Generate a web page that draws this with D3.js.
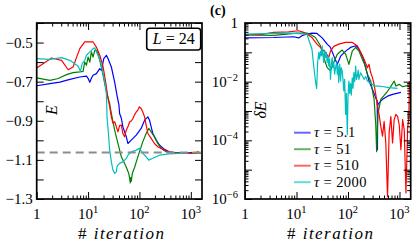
<!DOCTYPE html>
<html>
<head>
<meta charset="utf-8">
<script src="https://cdn.jsdelivr.net/npm/d3@7"></script>
</head>
<body style="margin:0;background:#fff">
<svg id="chart" width="415" height="243" style="display:block"></svg>
<script>
// ---- data ----
// [iteration, E]
var energyBlue = [
  [1,-0.721],[1.81,-0.710],[2.83,-0.702],[4.42,-0.688],[6.9,-0.676],[9.3,-0.672],[10,-0.683],
  [10.8,-0.703],[11.6,-0.683],[12.5,-0.667],[14.5,-0.659],[16.9,-0.633],[18.2,-0.642],[20.2,-0.582],
  [22.7,-0.565],[24.4,-0.582],[28.4,-0.625],[32.9,-0.702],[36.5,-0.769],[39.9,-0.820],[41.1,-0.863],
  [44.4,-0.887],[47.6,-0.931],[55.5,-0.982],[59.6,-1.016],[69.3,-0.999],[86.7,-0.973],[108,-0.939],
  [126,-0.897],[146,-0.880],[157,-0.897],[169,-0.931],[182,-0.965],[212,-0.999],[245,-1.024],
  [306,-1.046],[383,-1.059],[516,-1.064],[935,-1.064],[1065,-1.062]
];
var energyGreen = [
  [1,-0.681],[1.81,-0.693],[2.62,-0.684],[3.81,-0.664],[5.1,-0.654],[6.9,-0.650],[8.0,-0.647],
  [8.6,-0.600],[9.3,-0.616],[10,-0.574],[10.8,-0.600],[11.6,-0.548],[12.5,-0.574],[13.5,-0.540],
  [14.5,-0.540],[15.6,-0.555],[16.9,-0.591],[19,-0.650],[21.1,-0.710],[23.4,-0.761],[26.3,-0.812],
  [28.4,-0.863],[32.9,-0.948],[38.1,-1.016],[44.4,-1.084],[51.4,-1.118],[56,-1.140],[62,-1.170],
  [64.3,-1.193],[66.3,-1.218],[68,-1.190],[69.3,-1.210],[72,-1.175],[74.5,-1.161],[80,-1.140],
  [86.7,-1.110],[100,-1.059],[116,-1.008],[135,-0.965],[152,-0.939],[169,-0.957],[196,-0.982],
  [227,-1.016],[264,-1.041],[330,-1.059],[516,-1.066],[935,-1.066],[1600,-1.066]
];
var energyRed = [
  [1,-0.630],[1.95,-0.579],[3.05,-0.591],[4.1,-0.639],[5.1,-0.625],[6.9,-0.531],[8.6,-0.497],
  [12.5,-0.497],[14.5,-0.523],[16.9,-0.565],[19.5,-0.621],[22,-0.702],[24.4,-0.786],[26.3,-0.826],
  [28.4,-0.880],[30.5,-0.912],[33,-0.905],[35.5,-0.931],[38.1,-0.957],[41,-0.925],[44.4,-0.922],
  [47.6,-0.965],[51.4,-0.982],[55,-0.950],[59.6,-0.931],[64.3,-0.906],[70,-0.900],[74.5,-0.888],
  [80,-0.870],[86.7,-0.855],[93,-0.845],[100,-0.829],[108,-0.837],[116,-0.855],[126,-0.880],
  [135,-0.922],[146,-0.965],[169,-0.990],[196,-1.016],[227,-1.033],[284,-1.046],[355,-1.057],
  [450,-1.063],[600,-1.066],[900,-1.066],[1200,-1.066],[1300,-1.062],[1400,-1.055]
];
var energyCyan = [
  [1,-0.582],[1.81,-0.586],[3.05,-0.577],[4.42,-0.591],[5.5,-0.608],[6.4,-0.621],[7.1,-0.647],
  [7.7,-0.606],[8.6,-0.591],[9.3,-0.565],[10.8,-0.548],[12.5,-0.531],[13.5,-0.527],[14.1,-0.540],
  [15.6,-0.565],[17.4,-0.600],[19,-0.642],[21.1,-0.702],[22.7,-0.761],[23.4,-0.880],[24.9,-0.965],
  [26.3,-1.050],[28.4,-1.110],[30.5,-1.152],[32.9,-1.169],[35.5,-1.161],[36.5,-1.135],[38.1,-1.127],
  [41.1,-1.118],[47.6,-1.110],[55.5,-1.092],[59.6,-1.076],[69.3,-1.059],[86.7,-1.050],[100,-1.041],
  [116,-1.067],[135,-1.084],[152,-1.101],[182,-1.092],[245,-1.076],[383,-1.069],[693,-1.066],[900,-1.066]
];
var energyExact = -1.062;

// [iteration, deltaE]
var deltaBlue = [
  [1,0.31],[3.6,0.32],[8.8,0.34],[11,0.31],[12.8,0.37],[16,0.42],[20,0.454],[25,0.44],[31.5,0.31],
  [39.4,0.19],[45.7,0.147],[53,0.0757],[62,0.039],[72,0.074],[90,0.11],[112,0.147],[141,0.167],
  [163,0.128],[190,0.0757],[221,0.030],[256,0.0105],[298,0.0055],[346,0.0028],[370,0.0022],
  [373,4.8e-5],[378,0.0016],[402,0.0019],[468,0.0025],[586,0.0032],[733,0.0037],[1065,0.0043]
];
var deltaGreen = [
  [1,0.39],[3.6,0.38],[6.5,0.42],[10.2,0.454],[16,0.454],[19.5,0.39],[23.3,0.32],[29.2,0.167],
  [33.8,0.067],[39.4,0.030],[45.7,0.0232],[53,0.046],[62,0.0865],[77,0.12],[90,0.0865],[104,0.039],
  [121,0.11],[141,0.147],[163,0.11],[190,0.058],[210,0.039],[238,0.018],[276,0.0105],[321,0.0025],
  [346,3.4e-4],[360,4.1e-5],[380,7.6e-4],[433,0.0025],[503,0.0034],[586,0.0047],[679,0.0069],
  [788,0.0105],[850,0.0071],[987,0.0081],[1150,0.0067],[1334,0.0072],[1547,0.0072],[1650,0.0081]
];
var deltaRed = [
  [1,0.40],[2,0.40],[3.6,0.48],[7,0.50],[11,0.545],[13.8,0.48],[17,0.39],[20,0.32],[25,0.19],
  [31.5,0.128],[36.5,0.099],[42.4,0.068],[45.7,0.11],[53,0.16],[66,0.19],[90,0.218],[121,0.218],
  [152,0.167],[176,0.10],[205,0.058],[238,0.030],[256,0.039],[276,0.020],[298,0.014],[321,0.0081],
  [346,0.0037],[373,0.00146],[402,7.6e-4],[433,3.0e-4],[468,1.4e-4],[503,4.4e-4],[542,8.3e-5],
  [586,1.2e-6],[629,1.8e-4],[679,6.5e-4],[733,8.1e-5],[788,5.1e-4],[850,7.6e-4],[918,6.6e-4],
  [987,3.4e-4],[1065,4.8e-5],[1150,5.1e-4],[1236,2.3e-4],[1334,1.6e-6],[1440,2.7e-4],[1520,6e-4],
  [1560,0.0105]
];
var deltaCyan = [
  [1,0.42],[3.6,0.44],[7.6,0.454],[16,0.42],[17.2,0.28],[20,0.128],[21.6,0.034],[23.3,0.0105],
  [24.6,0.0059],[25.8,0.046],[27,0.099],[28,0.06],[29.2,0.11],[30.3,0.075],[31.5,0.167],[32.5,0.09],
  [33.8,0.045],[35,0.12],[36.5,0.066],[38,0.1],[39.4,0.045],[41,0.075],[42.4,0.034],[44,0.06],
  [45.7,0.012],[47.5,0.04],[49.3,0.066],[51,0.03],[53,0.045],[55,0.018],[57.3,0.03],[60,0.045],
  [62,0.0179],[64,0.035],[66,0.0093],[69,0.04],[72,0.0105],[74,0.03],[77,0.0232],[80,0.012],
  [83,0.0048],[86,0.012],[90,7.6e-4],[93,0.004],[97,1.57e-4],[100,0.003],[104,0.0105],[108,0.004],
  [112,0.0088],[116,0.0035],[121,0.0135],[125,0.006],[130,0.0204],[135,0.01],[141,0.034],[146,0.012],
  [152,0.0156],[158,0.025],[163,0.012],[175,0.02],[190,0.0156],[205,0.012],[221,0.015],[238,0.0105],
  [256,0.0095],[298,0.0081],[321,0.0071],[402,0.0071],[629,0.0063],[918,0.0059]
];

var tauLabels = ['5.1', '51', '510', '2000'];
var seriesColors = ['#0000ff', '#008000', '#ff0000', '#00bfbf'];
var energySeries = [energyBlue, energyGreen, energyRed, energyCyan];
var deltaSeries = [deltaBlue, deltaGreen, deltaRed, deltaCyan];

var yTicksE = [-1.3, -1.2, -1.1, -1.0, -0.9, -0.8, -0.7, -0.6, -0.5, -0.4];
var yLabelsE = [-1.3, -1.1, -0.9, -0.7, -0.5];
var xLabelExps = [0, 1, 2, 3];
var yLabelExpsD = [0, -2, -4, -6];

// ---- layout ----
var boxE = {x0: 36.7, x1: 202, y0: 23, y1: 199};
var boxD = {x0: 245, x1: 410.7, y0: 23, y1: 199};
var iterMax = 1650;
var serif = 'Liberation Serif';

var svg = d3.select('#chart');

/**
 * 對數軸的主要/次要刻度
 */
function logTicks(lo, hi) {
  var major = [], minor = [];
  for (var k = Math.floor(Math.log10(lo)); k <= Math.ceil(Math.log10(hi)); k++) {
    for (var m = 1; m < 10; m++) {
      var v = m * Math.pow(10, k);
      if (v < lo * 0.999 || v > hi * 1.001) continue;
      (m === 1 ? major : minor).push(v);
    }
  }
  return {major: major, minor: minor};
}

/**
 * 畫朝內的刻度線 (用 d3 axis)
 */
function drawTicks(g, scale, orient, box, values, size) {
  var fn = {bottom: d3.axisBottom, top: d3.axisTop, left: d3.axisLeft, right: d3.axisRight}[orient];
  var ax = fn(scale).tickValues(values).tickSizeInner(-size).tickSizeOuter(0).tickFormat('');
  var tr = {
    bottom: 'translate(0,' + box.y1 + ')',
    top: 'translate(0,' + box.y0 + ')',
    left: 'translate(' + box.x0 + ',0)',
    right: 'translate(' + box.x1 + ',0)'
  }[orient];
  var sel = g.append('g').attr('transform', tr).call(ax);
  sel.select('.domain').remove();
  sel.selectAll('line').attr('stroke', '#000').attr('stroke-width', 1);
}

// 文字統一用 serif 字型
function addText(g) {
  return g.append('text').attr('font-family', serif).style('font-family', serif);
}

function powerLabel(sel, exp) {
  if (exp === 0) {
    sel.append('tspan').text('1');
    return;
  }
  sel.append('tspan').text('10');
  sel.append('tspan').attr('dy', -6).attr('font-size', 10.5)
    .text(exp < 0 ? '\u2212' + (-exp) : String(exp));
}

function drawLines(g, series, x, y, clipId) {
  var line = d3.line()
    .x(function(d) { return x(d[0]); })
    .y(function(d) { return y(d[1]); });
  g.append('g').attr('clip-path', 'url(#' + clipId + ')')
    .selectAll('path').data(series).enter().append('path')
    .attr('d', line)
    .attr('fill', 'none')
    .attr('stroke', function(d, i) { return seriesColors[i]; })
    .attr('stroke-width', 1.2)
    .attr('stroke-linejoin', 'round');
}

function addClip(id, box) {
  svg.append('clipPath').attr('id', id).append('rect')
    .attr('x', box.x0).attr('y', box.y0)
    .attr('width', box.x1 - box.x0).attr('height', box.y1 - box.y0);
}

function xAxisLabel(g, cx) {
  var t = addText(g).attr('x', cx).attr('y', 238.5)
    .attr('text-anchor', 'middle').attr('font-size', 17)
    .attr('textLength', 86).attr('lengthAdjust', 'spacing');
  t.append('tspan').text('# ');
  t.append('tspan').attr('font-style', 'italic').text('iteration');
}

function frame(g, box) {
  g.append('rect')
    .attr('x', box.x0).attr('y', box.y0)
    .attr('width', box.x1 - box.x0).attr('height', box.y1 - box.y0)
    .attr('fill', 'none').attr('stroke', '#000').attr('stroke-width', 1.7);
}

// ---- panel: E ----
var xE = d3.scaleLog().domain([1, iterMax]).range([boxE.x0, boxE.x1]);
var yE = d3.scaleLinear().domain([-1.3, -0.4]).range([boxE.y1, boxE.y0]);
var gE = svg.append('g');
addClip('clipE', boxE);

drawLines(gE, energySeries, xE, yE, 'clipE');

gE.append('line')
  .attr('x1', boxE.x0).attr('x2', boxE.x1)
  .attr('y1', yE(energyExact)).attr('y2', yE(energyExact))
  .attr('stroke', '#8c8c8c').attr('stroke-width', 2)
  .attr('stroke-dasharray', '8,5');

var xt = logTicks(1, iterMax);
['bottom', 'top'].forEach(function(o) {
  drawTicks(gE, xE, o, boxE, xt.major, 7);
  drawTicks(gE, xE, o, boxE, xt.minor, 3.5);
});
['left', 'right'].forEach(function(o) {
  drawTicks(gE, yE, o, boxE, yTicksE, 7);
});

yLabelsE.forEach(function(v) {
  addText(gE).attr('x', boxE.x0 - 4).attr('y', yE(v) + 5)
    .attr('text-anchor', 'end').attr('font-size', 15)
    .text(d3.format('.1f')(v));
});

xLabelExps.forEach(function(k) {
  var t = addText(gE).attr('x', xE(Math.pow(10, k))).attr('y', 218.5)
    .attr('text-anchor', 'middle').attr('font-size', 15);
  powerLabel(t, k);
});

xAxisLabel(gE, 121);

addText(gE)
  .attr('transform', 'translate(57,110) rotate(-90)')
  .attr('text-anchor', 'middle').attr('font-size', 16).attr('font-style', 'italic')
  .text('E');

// L = 24 box
gE.append('rect')
  .attr('x', 146.7).attr('y', 28.3).attr('width', 54).attr('height', 21.7)
  .attr('rx', 3).attr('fill', '#fff').attr('stroke', '#000').attr('stroke-width', 1.6);
var lt = addText(gE).attr('x', 173.7).attr('y', 44)
  .attr('text-anchor', 'middle').attr('font-size', 16);
lt.append('tspan').attr('font-style', 'italic').text('L');
lt.append('tspan').text(' = 24');

frame(gE, boxE);

// ---- panel: deltaE ----
var xD = d3.scaleLog().domain([1, iterMax]).range([boxD.x0, boxD.x1]);
var yD = d3.scaleLog().domain([1e-6, 1]).range([boxD.y1, boxD.y0]);
var gD = svg.append('g');
addClip('clipD', boxD);

drawLines(gD, deltaSeries, xD, yD, 'clipD');

['bottom', 'top'].forEach(function(o) {
  drawTicks(gD, xD, o, boxD, xt.major, 7);
  drawTicks(gD, xD, o, boxD, xt.minor, 3.5);
});
var yt = logTicks(1e-6, 1);
['left', 'right'].forEach(function(o) {
  drawTicks(gD, yD, o, boxD, yt.major, 7);
  drawTicks(gD, yD, o, boxD, yt.minor, 3.5);
});

yLabelExpsD.forEach(function(k) {
  var t = addText(gD).attr('x', boxD.x0 - 7).attr('y', yD(Math.pow(10, k)) + 5)
    .attr('text-anchor', 'end').attr('font-size', 15);
  powerLabel(t, k);
});

xLabelExps.forEach(function(k) {
  var t = addText(gD).attr('x', xD(Math.pow(10, k))).attr('y', 218.5)
    .attr('text-anchor', 'middle').attr('font-size', 15);
  powerLabel(t, k);
});

xAxisLabel(gD, 330);

addText(gD)
  .attr('transform', 'translate(266,110) rotate(-90)')
  .attr('text-anchor', 'middle').attr('font-size', 16).attr('font-style', 'italic')
  .text('\u03b4E');

// legend
var legend = gD.append('g');
tauLabels.forEach(function(lab, i) {
  var ly = 132.7 + i * 16.5;
  legend.append('line')
    .attr('x1', 294).attr('x2', 310.7).attr('y1', ly).attr('y2', ly)
    .attr('stroke', seriesColors[i]).attr('stroke-opacity', 0.6).attr('stroke-width', 2);
  var t = addText(legend).attr('x', 314).attr('y', ly + 4.5).attr('font-size', 14.5)
    .attr('letter-spacing', 0.4);
  t.append('tspan').attr('font-style', 'italic').text('\u03c4');
  t.append('tspan').text(' = ' + lab);
});

frame(gD, boxD);

addText(svg).attr('x', 210).attr('y', 15)
  .attr('font-size', 14).attr('font-weight', 'bold').text('(c)');
</script>
</body>
</html>
